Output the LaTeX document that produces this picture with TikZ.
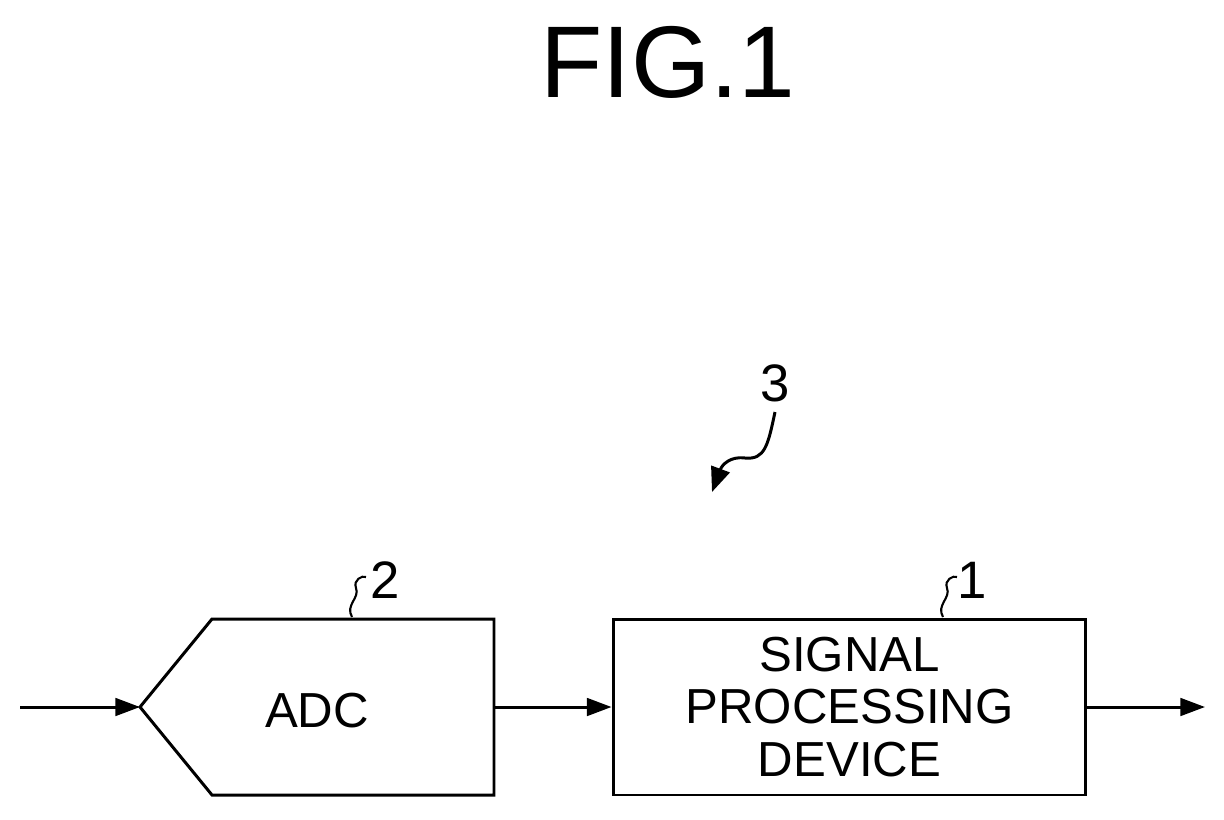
\documentclass[tikz,border=0pt]{standalone}
\usepackage{fontspec}
\setmainfont{Liberation Sans}
\usetikzlibrary{arrows.meta}
\begin{document}
\begin{tikzpicture}[x=0.02cm,y=-0.02cm,line width=1.7pt,
  sig/.style={-{Triangle[length=14pt,width=10pt]}},
  lbl/.style={font=\fontsize{28}{34}\selectfont},
  ref/.style={font=\fontsize{30}{34}\selectfont}]
\useasboundingbox (0,0) rectangle (1224,819);
\node at (668,62) [font=\fontsize{58}{60}\selectfont] {FIG.1};
% ADC block
\draw (140,707)--(212,619)--(494,619)--(494,795)--(212,795)--cycle;
\coordinate (adcin) at (140,707);
\coordinate (adcout) at (494,707);
\node (adc) at (317,711) [lbl] {ADC};
% signal processing device
\node (spd) at (849.5,707) [draw,minimum width=473\pgflinewidth/1.7*0.02cm*0+9.46cm,minimum height=3.52cm,lbl,align=center,inner sep=0pt] {SIGNAL\\[-4pt]PROCESSING\\[-4pt]DEVICE};
\coordinate (in) at (20,707);
\coordinate (out) at (1205,707);
\draw[sig] (in)--(adcin);
\draw[sig] (adcout)--(spd.west);
\draw[sig] (spd.east)--(out);
% reference numerals
\node (n2) at (385,580) [ref] {2};
\draw[line width=1.2pt] (352,617) .. controls (345,605) and (360,598) .. (356,588) .. controls (353,580) and (362,575) .. (366,577);
\node (n1) at (972,580) [ref] {1};
\draw[line width=1.2pt] (943,617) .. controls (936,605) and (951,598) .. (947,588) .. controls (944,580) and (953,575) .. (957,577);
\node (n3) at (775,383) [ref] {3};
\draw[line width=1.7pt,-{Triangle[length=14pt,width=11pt]}] (775,412) .. controls (768,445) and (765,460) .. (745,458) .. controls (730,456) and (722,465) .. (712,492);
\end{tikzpicture}
\end{document}
